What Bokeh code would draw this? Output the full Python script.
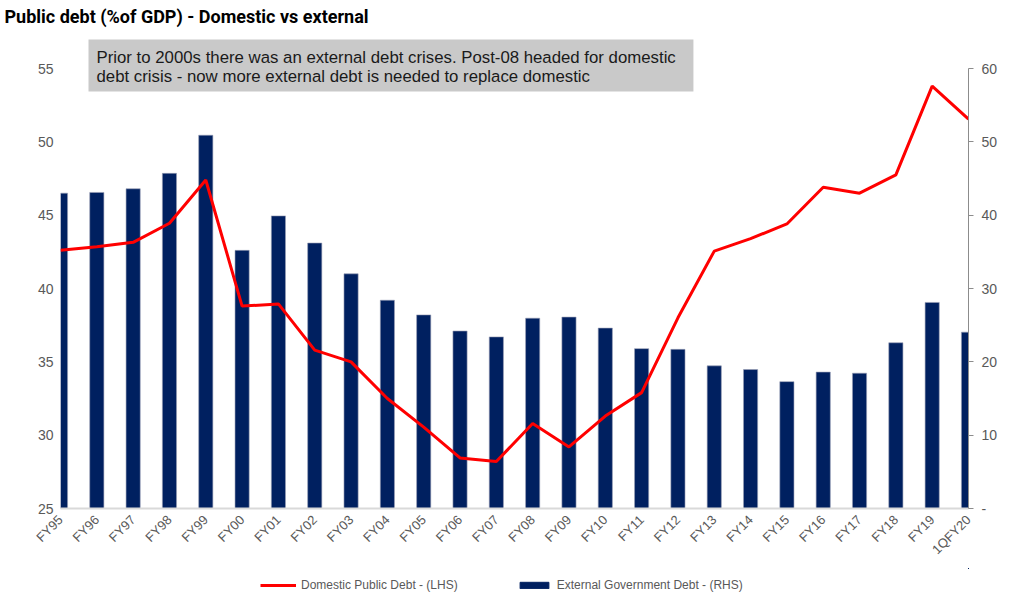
import math
from bokeh.plotting import figure
from bokeh.layouts import column
from bokeh.models import (Range1d, LinearAxis, FixedTicker, Legend, LegendItem, Label)
from bokeh.embed import file_html
from bokeh.resources import INLINE

# ---- data ----
categories = ["FY95", "FY96", "FY97", "FY98", "FY99", "FY00", "FY01", "FY02", "FY03",
              "FY04", "FY05", "FY06", "FY07", "FY08", "FY09", "FY10", "FY11", "FY12",
              "FY13", "FY14", "FY15", "FY16", "FY17", "FY18", "FY19", "1QFY20"]
domestic_debt = [42.6, 42.85, 43.15, 44.45, 47.4, 38.8, 38.95, 35.8, 35.0,
                 32.5, 30.55, 28.45, 28.2, 30.8, 29.2, 31.3, 32.9, 38.0,
                 42.55, 43.4, 44.4, 46.9, 46.5, 47.75, 53.8, 51.55]
external_debt = [43.0, 43.1, 43.6, 45.7, 50.9, 35.2, 39.9, 36.2, 32.0,
                 28.4, 26.4, 24.2, 23.4, 25.95, 26.1, 24.6, 21.8, 21.7,
                 19.45, 18.95, 17.3, 18.6, 18.45, 22.6, 28.1, 24.05]
left_ticks = [25, 30, 35, 40, 45, 50, 55]
right_ticks = [0, 10, 20, 30, 40, 50, 60]
series_names = ["Domestic Public Debt - (LHS)", "External Government Debt - (RHS)"]

xs = list(range(len(categories)))

GREY = "#595959"
NAVY = "#002060"
RED = "#ff0000"
FONT = "Liberation Sans"

# ---- layout (pixels) ----
W = 1000
H_MAIN, H_LEG = 568, 25
FRAME_TOP = 28          # frame top (title above it)
AXIS_TOP = 68           # where the top tick (55 / 60) sits
AXIS_BOTTOM = 508       # frame bottom (25 / 0)
axis_px = AXIS_BOTTOM - AXIS_TOP


def stretch_top(lo, hi):
    per_px = (hi - lo) / axis_px
    return lo, hi + (AXIS_TOP - FRAME_TOP) * per_px


l0, l1 = stretch_top(left_ticks[0], left_ticks[-1])
r0, r1 = stretch_top(right_ticks[0], right_ticks[-1])

p = figure(width=W, height=H_MAIN, output_backend="svg", toolbar_location=None,
           x_range=Range1d(0, len(categories) - 1), y_range=Range1d(l0, l1),
           min_border_left=60, min_border_right=29, min_border_top=FRAME_TOP,
           min_border_bottom=H_MAIN - AXIS_BOTTOM)

p.extra_y_ranges = {"right": Range1d(r0, r1)}

p.xgrid.visible = False
p.ygrid.visible = False
p.outline_line_color = None
p.background_fill_color = "white"
p.border_fill_color = "white"

# title
p.title.text = "Public debt (%of GDP) - Domestic vs external"
p.title.text_font = "Roboto"
p.title.text_font_style = "bold"
p.title.text_font_size = "18px"
p.title.text_color = "black"
p.title.align = "left"
p.title.offset = -56
p.title.standoff = 3

# bars
bars = p.vbar(x=xs, top=external_debt, width=0.39, bottom=0, y_range_name="right",
              fill_color=NAVY, line_color="#9aa0b5", line_width=0.6)
# line
ln = p.line(x=xs, y=domestic_debt, line_color=RED, line_width=3)

# left axis
ya = p.yaxis[0]
ya.ticker = FixedTicker(ticks=left_ticks)
ya.bounds = (left_ticks[0], left_ticks[-1])
ya.axis_line_color = None
ya.major_tick_line_color = None
ya.minor_tick_line_color = None
ya.major_label_text_font = FONT
ya.major_label_text_font_size = "14px"
ya.major_label_text_color = GREY
ya.major_label_standoff = 1

# right axis
ra = LinearAxis(y_range_name="right", ticker=FixedTicker(ticks=right_ticks),
                bounds=(right_ticks[0], right_ticks[-1]))
ra.axis_line_color = "#8c8c8c"
ra.major_tick_line_color = "#8c8c8c"
ra.major_tick_out = 5
ra.major_tick_in = 0
ra.minor_tick_line_color = None
ra.major_label_text_font = FONT
ra.major_label_text_font_size = "14px"
ra.major_label_text_color = GREY
ra.major_label_standoff = 8
ra.major_label_overrides = {0: "-"}
p.add_layout(ra, "right")

# x axis
xa = p.xaxis[0]
xa.ticker = FixedTicker(ticks=xs)
xa.major_label_overrides = {i: c for i, c in zip(xs, categories)}
xa.major_label_orientation = math.pi / 4
xa.axis_line_color = "#d9d9d9"
xa.axis_line_width = 2
xa.major_tick_line_color = None
xa.minor_tick_line_color = None
xa.major_label_text_font = FONT
xa.major_label_text_font_size = "13px"
xa.major_label_text_color = GREY
xa.major_label_standoff = 3

# annotation box (two lines); padding order here is (left, right, top, bottom)
note_line1 = "Prior to 2000s there was an external debt crises. Post-08  headed for domestic"
note_line2 = "debt crisis - now more external debt is needed to replace domestic"
note1 = Label(x=28, y=AXIS_BOTTOM - 39, x_units="screen", y_units="screen", text=note_line1,
              text_font=FONT, text_font_size="16.8px", text_color="#1a1a1a",
              text_align="left", text_baseline="top",
              background_fill_color="#c9c9c9", padding=(8, 13, 8, 25))
note2 = Label(x=36, y=AXIS_BOTTOM - 66, x_units="screen", y_units="screen", text=note_line2,
              text_font=FONT, text_font_size="16.8px", text_color="#1a1a1a",
              text_align="left", text_baseline="top")
p.add_layout(note1)
p.add_layout(note2)

# ---- legend strip below the chart (series kept out of view, only their keys show) ----
q = figure(width=W, height=H_LEG, output_backend="svg", toolbar_location=None,
           x_range=Range1d(-200, -199), y_range=Range1d(-200, -199),
           x_axis_location=None, y_axis_location=None, min_border=0)
q.grid.visible = False
q.outline_line_color = None
q.background_fill_color = "white"
q.border_fill_color = "white"
leg_line = q.line(x=xs, y=domestic_debt, line_color=RED, line_width=3)
leg_bar = q.vbar(x=xs, top=external_debt, bottom=0, width=0.39, fill_color=NAVY, line_color=NAVY)

legend = Legend(items=[LegendItem(label=series_names[0], renderers=[leg_line]),
                       LegendItem(label=series_names[1], renderers=[leg_bar])],
                orientation="horizontal", location=(200, 1),
                label_text_font=FONT, label_text_font_size="12px", label_text_color=GREY,
                glyph_width=36, glyph_height=8, spacing=58, label_standoff=5,
                border_line_color=None, background_fill_alpha=0, margin=0, padding=4)
q.add_layout(legend, "center")

layout = column(p, q, spacing=0)

open("out.html", "w").write(file_html(layout, INLINE))
